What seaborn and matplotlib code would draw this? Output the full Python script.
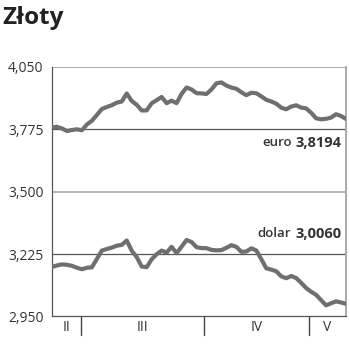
import matplotlib
matplotlib.use("Agg")
import matplotlib.pyplot as plt
import seaborn as sns
import pandas as pd

# Data (trading-day index)
euro = [3.7816, 3.7847, 3.7772, 3.7662, 3.7706, 3.7737, 3.7697, 3.7948, 3.8111, 3.8367,
        3.8631, 3.8719, 3.8798, 3.8909, 3.8961, 3.9314, 3.8983, 3.8816, 3.8565, 3.8569,
        3.8882, 3.9019, 3.9160, 3.8887, 3.8997, 3.8887, 3.9292, 3.9578, 3.9490, 3.9327,
        3.9318, 3.9292, 3.9490, 3.9763, 3.9798, 3.9662, 3.9574, 3.9521, 3.9367, 3.9239,
        3.9345, 3.9323, 3.9186, 3.9036, 3.8961, 3.8865, 3.8688, 3.8618, 3.8737, 3.8794,
        3.8693, 3.8657, 3.8464, 3.8221, 3.8177, 3.8199, 3.8252, 3.8402, 3.8323, 3.8194]
dolar = [3.1677, 3.1748, 3.1792, 3.1774, 3.1730, 3.1646, 3.1580, 3.1646, 3.1664, 3.2030,
         3.2400, 3.2470, 3.2532, 3.2616, 3.2651, 3.2845, 3.2391, 3.2113, 3.1699, 3.1669,
         3.2017, 3.2241, 3.2400, 3.2312, 3.2567, 3.2285, 3.2572, 3.2867, 3.2779, 3.2550,
         3.2510, 3.2506, 3.2431, 3.2409, 3.2422, 3.2523, 3.2638, 3.2563, 3.2347, 3.2360,
         3.2501, 3.2404, 3.2025, 3.1620, 3.1563, 3.1492, 3.1268, 3.1184, 3.1281, 3.1193,
         3.0981, 3.0752, 3.0589, 3.0453, 3.0219, 2.9990, 3.0083, 3.0166, 3.0118, 3.0060]
month_labels = ["II", "III", "IV", "V"]
month_starts = [5.8, 30.5, 51.5]
y_ticks = [2.950, 3.225, 3.500, 3.775, 4.050]
euro_label = "3,8194"
dolar_label = "3,0060"

n = len(euro)
df = pd.DataFrame({
    "day": list(range(n)) * 2,
    "kurs": euro + dolar,
    "waluta": ["euro"] * n + ["dolar"] * n,
})

sns.set_style("white")
plt.rcParams["font.family"] = ["Open Sans", "DejaVu Sans"]

fig = plt.figure(figsize=(3.5, 3.51), dpi=100)
ax = fig.add_axes([0.1486, 0.0983, 0.84, 0.7122])

line_col = "#6f6f6f"
for v, c, lw in [(3.775, "#555555", 0.9), (3.225, "#555555", 0.9),
                 (3.500, "#aaaaaa", 1.2), (4.050, "#aaaaaa", 1.4)]:
    ax.axhline(v, color=c, lw=lw, zorder=1)

sns.lineplot(data=df, x="day", y="kurs", hue="waluta",
             palette={"euro": line_col, "dolar": line_col},
             linewidth=3.0, legend=False, ax=ax, zorder=3)

ax.set_xlim(0, n - 1)
ax.set_ylim(2.950, 4.050)
ax.set_yticks(y_ticks)
ax.set_yticklabels([f"{v:.3f}".replace(".", ",") for v in y_ticks],
                   fontsize=10, color="#333333")
ax.tick_params(axis="y", length=5, width=0.9, color="#555555", pad=1)
ax.set_xticks([])
ax.set_xlabel("")
ax.set_ylabel("")

ax.spines["top"].set_visible(False)
ax.spines["right"].set_color("#aaaaaa")
ax.spines["right"].set_linewidth(1.4)
ax.spines["left"].set_color("#555555")
ax.spines["left"].set_linewidth(0.9)
ax.spines["bottom"].set_color("#555555")
ax.spines["bottom"].set_linewidth(0.9)

trans = ax.get_xaxis_transform()
for m in month_starts:
    ax.plot([m, m], [0, -0.075], transform=trans, color="#444444",
            lw=1.0, clip_on=False)
bounds = [0] + month_starts + [n - 1]
for i, lab in enumerate(month_labels):
    mid = (bounds[i] + bounds[i + 1]) / 2
    ax.text(mid, -0.045, lab, transform=trans, ha="center", va="center",
            fontsize=10, color="#333333")

ytr = ax.get_yaxis_transform()
for word, num, yv in [("euro", euro_label, 3.715), ("dolar", dolar_label, 3.314)]:
    t = ax.text(0.985, yv, num, ha="right", va="center", fontsize=10.5,
                fontweight="bold", color="#333333", transform=ytr)
    ax.annotate(word, xy=(0, 0.5), xycoords=t, xytext=(-3, 0),
                textcoords="offset points", ha="right", va="center",
                fontsize=9.5, fontweight="semibold", color="#333333")

fig.text(0.008, 0.948, "Złoty", fontsize=17.5, fontweight="bold", color="#222222",
         ha="left", va="center")

fig.savefig("out.png", dpi=100)
